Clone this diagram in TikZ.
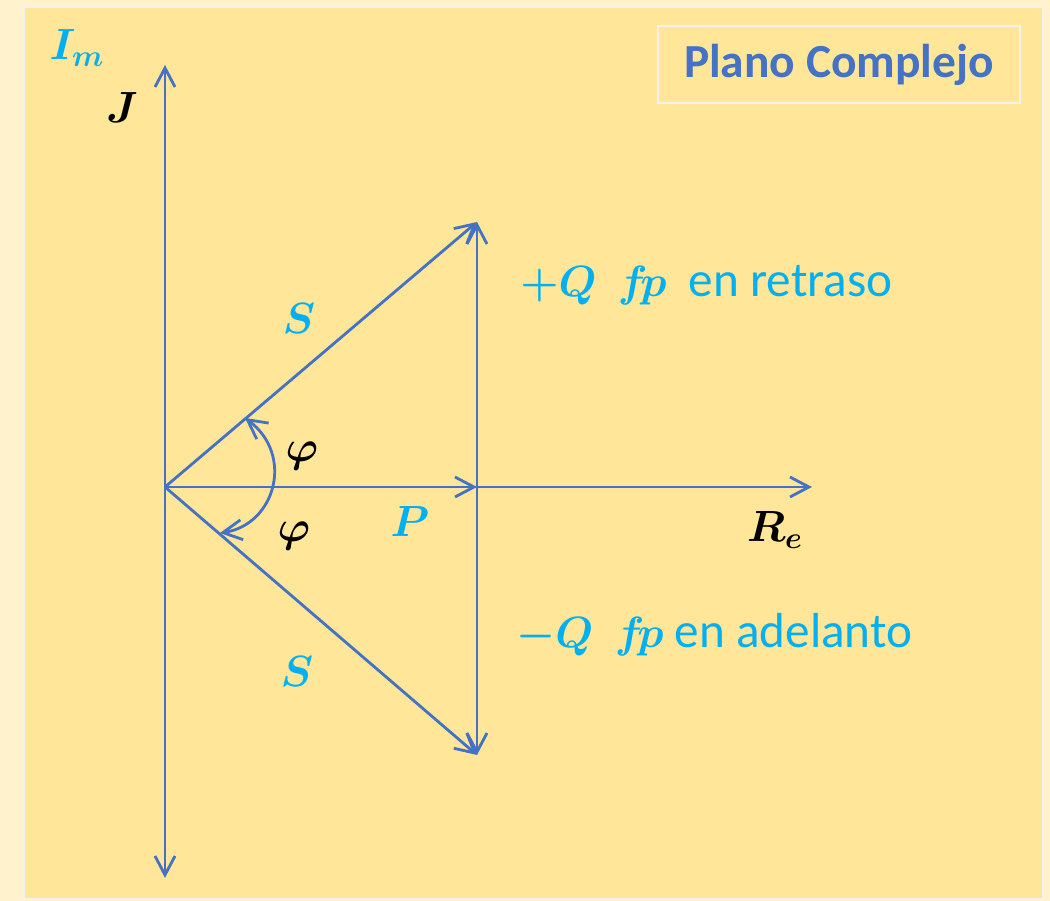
\documentclass[tikz,border=0pt]{standalone}
\usepackage{amsmath}
\usepackage{bm}
\usepackage{fontspec}
\setmainfont{Carlito}
\usepackage{xcolor}
\usepackage{tikz}
\usetikzlibrary{arrows.meta}
\definecolor{planoblue}{RGB}{68,114,196}
\definecolor{planocyan}{RGB}{0,176,240}
\definecolor{planoyellow}{RGB}{255,230,153}
\definecolor{planocream}{RGB}{255,242,204}
\definecolor{planoedge}{RGB}{242,242,242}
\tikzset{barb/.tip={Straight Barb[length=3.8mm,width=4mm]}}

\begin{document}
\begin{tikzpicture}[x=0.2mm,y=-0.2mm,
  vec/.style={planoblue,line width=1.6pt,-barb},
  mathlbl/.style={inner sep=0pt,font=\fontsize{27}{31}\selectfont},
  textlbl/.style={inner sep=0pt,anchor=base west,planocyan,font=\fontsize{28}{32}\selectfont}]
  \useasboundingbox (0,0) rectangle (1050,901);
  \fill[planocream](0,0)rectangle(1050,901);
  \draw[planoedge,line width=1.2pt,fill=planoyellow](24,7)rectangle(1043,899);
  \node[draw=planoedge,line width=1.2pt,minimum width=72.4mm,minimum height=15.4mm,
    text=planoblue,font=\fontsize{27}{31}\selectfont\bfseries] (titulo) at (839,64.5) {Plano Complejo};
  \coordinate (O) at (165,487);
  \coordinate (ytop) at (165,65);
  \coordinate (ybot) at (165,878);
  \coordinate (xend) at (812,487);
  \coordinate (M) at (477,487);
  \coordinate (A) at (477,222);
  \coordinate (B) at (477,755);
  \coordinate (phiA) at (245,418);
  \coordinate (phiB) at (220,533);
  \draw[vec,barb-barb](ybot)--(ytop);
  \draw[vec](O)--(xend);
  \draw[vec](O)--(M);
  \draw[vec](O)--(A); \draw[vec](O)--(B);
  \draw[vec](M)--(A); \draw[vec](M)--(B);
  \draw[vec,barb-barb](phiA) .. controls (295,455) and (275,525) .. (phiB);
  \node[mathlbl,planocyan] (Im) at (77,48) {$\bm{I_m}$};
  \node[mathlbl] (J) at (122,108) {$\bm{J}$};
  \node[mathlbl] (Re) at (775,530) {$\bm{R_e}$};
  \node[mathlbl,planocyan] (S1) at (299,319) {$\bm{S}$};
  \node[mathlbl,planocyan] (S2) at (297,672) {$\bm{S}$};
  \node[mathlbl,planocyan] (P) at (410,522) {$\bm{P}$};
  \node[mathlbl] (phi1) at (302,456) {$\bm{\varphi}$};
  \node[mathlbl] (phi2) at (294,536) {$\bm{\varphi}$};
  \node[textlbl] (Qmas) at (520,297) {{\fontsize{27}{31}\selectfont$\bm{+}\bm{Q}\ \ \bm{f\!p}$}\ \ en retraso};
  \node[textlbl] (Qmenos) at (516,648) {{\fontsize{27}{31}\selectfont$\bm{-}\bm{Q}\ \ \bm{f\!p}$} en adelanto};
\end{tikzpicture}
\end{document}
